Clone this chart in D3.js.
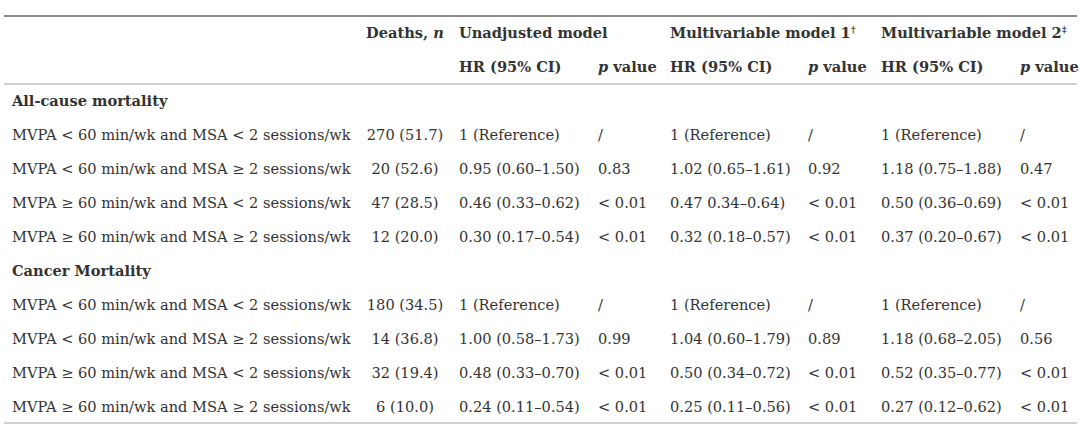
<!DOCTYPE html><html><head><meta charset="utf-8"><script src="https://cdn.jsdelivr.net/npm/d3@7"></script>
<style>body{margin:0;background:#fff}</style></head><body>
<svg width="1080" height="432"></svg>
<script>
const sections = ["All-cause mortality", "Cancer Mortality"];
const categories = [
  "MVPA < 60 min/wk and MSA < 2 sessions/wk",
  "MVPA < 60 min/wk and MSA ≥ 2 sessions/wk",
  "MVPA ≥ 60 min/wk and MSA < 2 sessions/wk",
  "MVPA ≥ 60 min/wk and MSA ≥ 2 sessions/wk"
];
const models = ["Unadjusted model", "Multivariable model 1", "Multivariable model 2"];
const modelMarks = ["", "†", "‡"];
// Deaths, n (%)
const deathsAll = ["270 (51.7)", "20 (52.6)", "47 (28.5)", "12 (20.0)"];
const deathsCancer = ["180 (34.5)", "14 (36.8)", "32 (19.4)", "6 (10.0)"];
// HR (95% CI) per model, all-cause
const hrAllUnadj = ["1 (Reference)", "0.95 (0.60–1.50)", "0.46 (0.33–0.62)", "0.30 (0.17–0.54)"];
const pAllUnadj = ["/", "0.83", "< 0.01", "< 0.01"];
const hrAllM1 = ["1 (Reference)", "1.02 (0.65–1.61)", "0.47 0.34–0.64)", "0.32 (0.18–0.57)"];
const pAllM1 = ["/", "0.92", "< 0.01", "< 0.01"];
const hrAllM2 = ["1 (Reference)", "1.18 (0.75–1.88)", "0.50 (0.36–0.69)", "0.37 (0.20–0.67)"];
const pAllM2 = ["/", "0.47", "< 0.01", "< 0.01"];
// cancer
const hrCanUnadj = ["1 (Reference)", "1.00 (0.58–1.73)", "0.48 (0.33–0.70)", "0.24 (0.11–0.54)"];
const pCanUnadj = ["/", "0.99", "< 0.01", "< 0.01"];
const hrCanM1 = ["1 (Reference)", "1.04 (0.60–1.79)", "0.50 (0.34–0.72)", "0.25 (0.11–0.56)"];
const pCanM1 = ["/", "0.89", "< 0.01", "< 0.01"];
const hrCanM2 = ["1 (Reference)", "1.18 (0.68–2.05)", "0.52 (0.35–0.77)", "0.27 (0.12–0.62)"];
const pCanM2 = ["/", "0.56", "< 0.01", "< 0.01"];

const W = 1080, H = 432;
const FONT = "DejaVu Serif", FS = 14.6, TXT = "#333";
const svg = d3.select("svg").attr("font-family", FONT).attr("font-size", FS).attr("fill", TXT);

// row layout: 0,1 headers; 2 section; 3-6 rows; 7 section; 8-11 rows
const rowY = d3.scaleLinear().domain([0, 11]).range([33, 407]);
// column x positions (left edges)
const colKeys = ["label", "deaths", "hr0", "p0", "hr1", "p1", "hr2", "p2"];
const colX = d3.scaleOrdinal().domain(colKeys).range([12, 366, 459, 598, 670, 808, 881, 1020]);
const deathsCenter = 405;

// rules
const rules = [
  {y: 16, c: "#8a8a8a", w: 2},
  {y: 84, c: "#d0d0d0", w: 2},
  {y: 423, c: "#d0d0d0", w: 2}
];
svg.selectAll("line.rule").data(rules).join("line")
  .attr("x1", 4).attr("x2", 1077).attr("y1", d => d.y).attr("y2", d => d.y)
  .attr("stroke", d => d.c).attr("stroke-width", d => d.w);

const T = (x, y, s, opts = {}) => {
  const t = svg.append("text").attr("x", x).attr("y", y).attr("dy", "0.35em").text(s);
  if (opts.bold) t.attr("font-weight", "bold");
  if (opts.anchor) t.attr("text-anchor", opts.anchor);
  return t;
};

// header row 1
const h1 = svg.append("text").attr("x", colX("deaths")).attr("y", rowY(0)).attr("dy", "0.35em").attr("font-weight", "bold");
h1.append("tspan").text("Deaths, ");
h1.append("tspan").attr("font-style", "italic").text("n");
models.forEach((m, i) => {
  const t = svg.append("text").attr("x", colX("hr" + i)).attr("y", rowY(0)).attr("dy", "0.35em").attr("font-weight", "bold").text(m);
  if (modelMarks[i]) t.append("tspan").attr("font-size", FS * 0.65).attr("dy", "-0.55em").text(modelMarks[i]);
});
// header row 2
models.forEach((m, i) => {
  T(colX("hr" + i), rowY(1), "HR (95% CI)", {bold: true});
  const t = svg.append("text").attr("x", colX("p" + i)).attr("y", rowY(1)).attr("dy", "0.35em").attr("font-weight", "bold");
  t.append("tspan").attr("font-style", "italic").text("p");
  t.append("tspan").text(" value");
});

const blocks = [
  {title: sections[0], start: 2, deaths: deathsAll, hr: [hrAllUnadj, hrAllM1, hrAllM2], p: [pAllUnadj, pAllM1, pAllM2]},
  {title: sections[1], start: 7, deaths: deathsCancer, hr: [hrCanUnadj, hrCanM1, hrCanM2], p: [pCanUnadj, pCanM1, pCanM2]}
];
blocks.forEach(b => {
  T(colX("label"), rowY(b.start), b.title, {bold: true});
  categories.forEach((c, j) => {
    const y = rowY(b.start + 1 + j);
    T(colX("label"), y, c);
    T(deathsCenter, y, b.deaths[j], {anchor: "middle"});
    [0, 1, 2].forEach(i => {
      T(colX("hr" + i), y, b.hr[i][j]);
      T(colX("p" + i), y, b.p[i][j]);
    });
  });
});
</script></body></html>
